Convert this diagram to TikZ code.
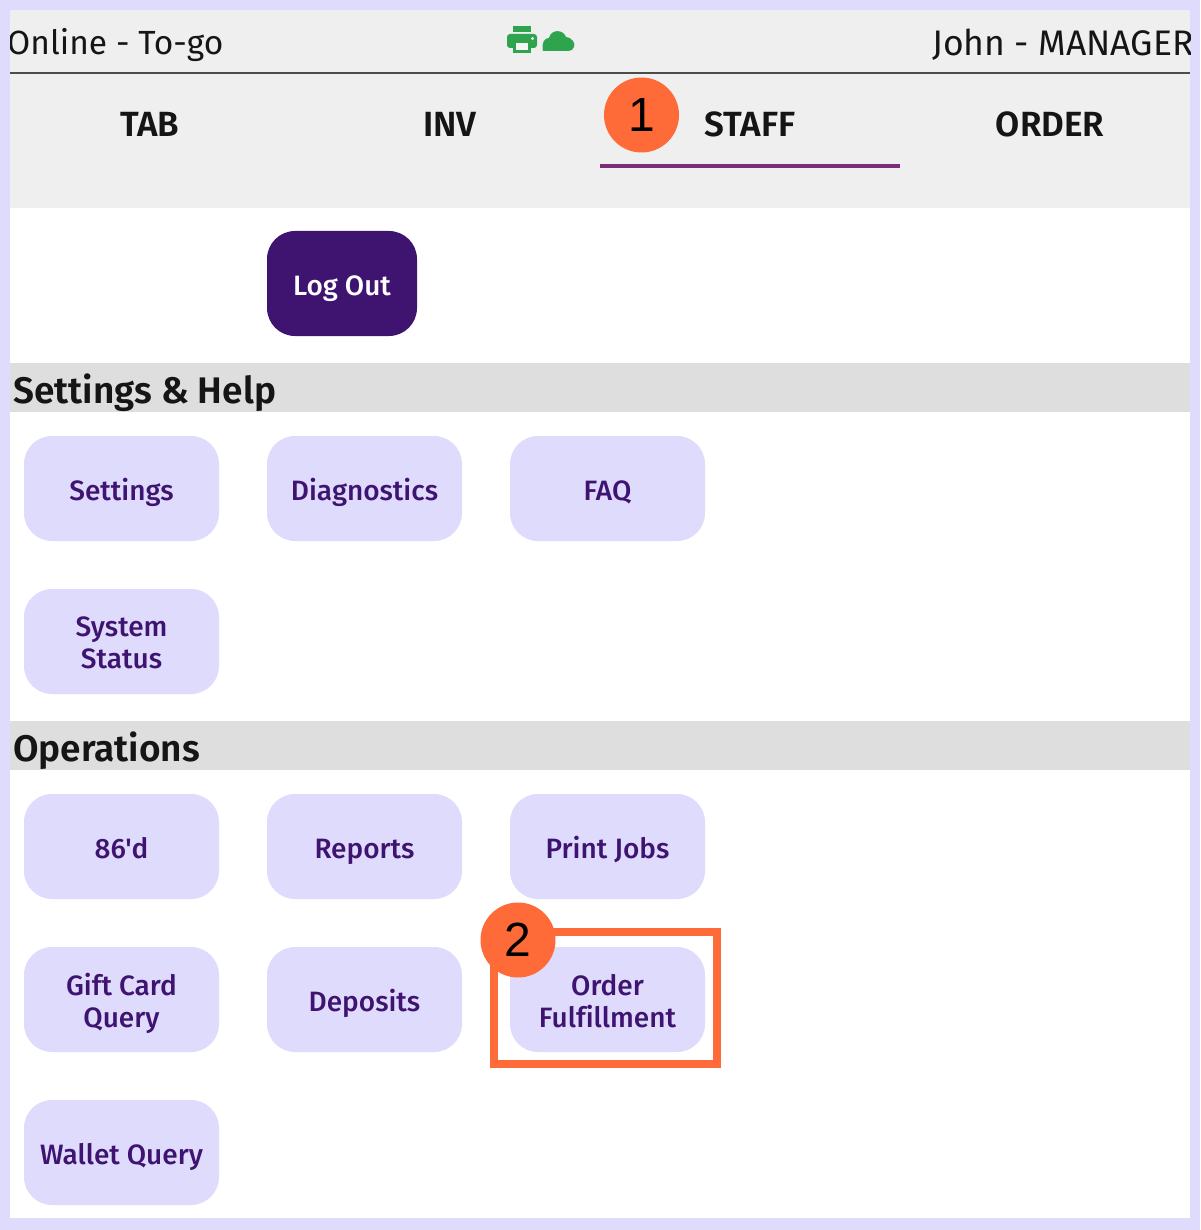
\documentclass[tikz,border=0pt]{standalone}
\usepackage{fontspec}
\newfontfamily\uifont[Ligatures=NoCommon]{Fira Sans}
\newfontfamily\uimed[Ligatures=NoCommon]{Fira Sans Medium}
\newfontfamily\uisemi[Ligatures=NoCommon]{Fira Sans SemiBold}
\newfontfamily\numfont{Liberation Sans}
\definecolor{lav}{HTML}{DFDBFD}
\definecolor{bar}{HTML}{EFEFEF}
\definecolor{sect}{HTML}{DEDEDE}
\definecolor{ink}{HTML}{151515}
\definecolor{deep}{HTML}{3F1470}
\definecolor{accent}{HTML}{FF6A39}
\definecolor{tabline}{HTML}{7B2D78}
\definecolor{iconG}{HTML}{2EA44F}
\tikzset{
  x=1pt,y=-1pt,
  tiletext/.style={text=deep,align=center,inner sep=0pt,yshift=-6pt,font=\uimed\fontsize{28}{32}\selectfont,
    execute at begin node=\strut,execute at end node=\strut},
  tile/.style={fill=lav,rounded corners=28pt,minimum width=195pt,minimum height=105pt,inner sep=0pt,
    label={[tiletext]center:{#1}}},
  tabtext/.style={font=\uisemi\fontsize{35}{38}\selectfont,text=ink,inner sep=0pt},
  toptext/.style={text=ink,inner sep=0pt,anchor=west},
  sectext/.style={font=\uisemi\fontsize{37}{40}\selectfont,text=ink,inner sep=0pt,anchor=west},
  badge/.style={circle,fill=accent,minimum size=75pt,inner sep=0pt,text=black,font=\numfont\fontsize{48}{50}\selectfont},
}
\begin{document}
\begin{tikzpicture}
\useasboundingbox (0,0) rectangle (1200,1230);
\fill[lav] (0,0) rectangle (1200,1230);
\fill[white] (10,10) rectangle (1190,1218);
\fill[bar] (10,10) rectangle (1190,208);
\fill[sect] (10,363) rectangle (1190,412);
\fill[sect] (10,721) rectangle (1190,770);
\draw[line width=2pt,color=black!70] (10,73) -- (1190,73);
\begin{scope}
\clip (10,10) rectangle (1190,73);
\node[toptext,font=\uifont\fontsize{33.5}{40}\selectfont] (online) at (7,45) {Online - To-go};
\node[toptext,font=\uifont\fontsize{35.5}{40}\selectfont] (john) at (932,45) {John - MANAGER};
\end{scope}
% printer
\fill[iconG] (513,26) rectangle (531,32);
\fill[iconG,rounded corners=3pt] (507,34) rectangle (537,48);
\fill[iconG] (513,42) rectangle (531,53);
\fill[bar!60!white] (516,43) rectangle (528,50);
\fill[bar] (532.5,38.5) circle (1.7pt);
% cloud
\fill[iconG] (543,51) .. controls (541,42) and (545,38) .. (549,38)
  .. controls (551,29) and (563,29) .. (566,37)
  .. controls (571,37) and (576,43) .. (574,47)
  .. controls (573,50) and (571,51) .. (568,51) -- cycle;
\node[tabtext] (tab) at (150,124) {TAB};
\node[tabtext] (inv) at (450,124) {INV};
\node[tabtext] (staff) at (750,124) {STAFF};
\node[tabtext] (order) at (1050,124) {ORDER};
\fill[tabline] (600,164) rectangle (900,168);
\node[badge] (b1) at (641.5,115) {1};
\node[fill=deep,rounded corners=28pt,minimum width=150pt,minimum height=105pt,inner sep=0pt,label={[tiletext,text=white]center:Log Out}] (logout) at (342,283.5) {};
\node[sectext] (s1) at (13,393) {Settings \& Help};
\node[tile=Settings] (settings) at (121.5,488.5) {};
\node[tile=Diagnostics] (diag) at (364.5,488.5) {};
\node[tile=FAQ] (faq) at (607.5,488.5) {};
\node[tile=System\\Status] (sys) at (121.5,641.5) {};
\node[sectext] (s2) at (13,751) {Operations};
\node[tile=86'd] (n86) at (121.5,846.5) {};
\node[tile=Reports] (reports) at (364.5,846.5) {};
\node[tile=Print Jobs] (print) at (607.5,846.5) {};
\node[tile=Gift Card\\Query] (gift) at (121.5,999.5) {};
\node[tile=Deposits] (deposits) at (364.5,999.5) {};
\node[tile=Order\\Fulfillment] (fulfil) at (607.5,999.5) {};
\node[tile=Wallet Query] (wallet) at (121.5,1152.5) {};
\draw[accent,line width=8pt] (494,932) rectangle (717,1064);
\node[badge] (b2) at (518,940) {2};
\end{tikzpicture}
\end{document}
